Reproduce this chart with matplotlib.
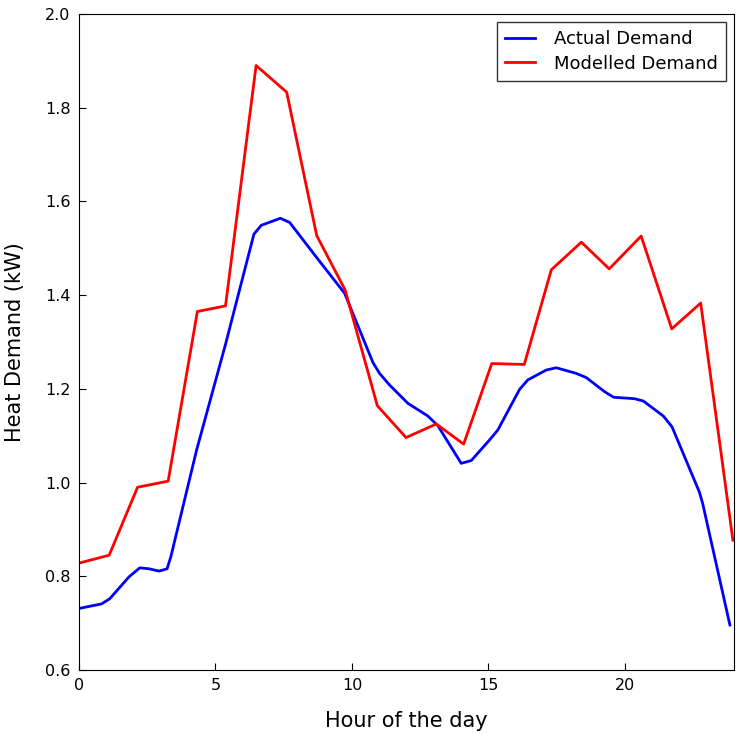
import numpy as np
import matplotlib
matplotlib.use("Agg")
import matplotlib.pyplot as plt

# actual demand (blue)
actual_hours = [0.06, 0.83, 1.13, 1.84, 2.23, 2.57, 2.94, 3.23, 3.37, 4.31, 5.37,
                6.41, 6.68, 7.38, 7.72, 8.75, 9.73, 10.77, 11.01, 11.38, 12.05,
                12.78, 13.15, 14.0, 14.37, 15.04, 15.34, 16.14, 16.44, 17.11,
                17.48, 18.21, 18.58, 19.25, 19.58, 20.34, 20.67, 21.4, 21.72,
                22.72, 22.84, 23.84]
actual_demand = [0.732, 0.741, 0.752, 0.799, 0.818, 0.816, 0.811, 0.816, 0.842,
                 1.069, 1.295, 1.530, 1.549, 1.564, 1.555, 1.477, 1.404, 1.256,
                 1.233, 1.208, 1.169, 1.142, 1.121, 1.041, 1.047, 1.091, 1.112,
                 1.199, 1.219, 1.240, 1.245, 1.233, 1.224, 1.194, 1.182, 1.179,
                 1.174, 1.142, 1.119, 0.980, 0.956, 0.696]

# modelled demand (red)
model_hours = [0.0, 1.11, 2.15, 3.27, 4.34, 5.37, 6.49, 7.61, 8.71, 9.75, 10.93,
               11.98, 13.09, 14.09, 15.12, 16.31, 17.3, 18.4, 19.42, 20.59,
               21.71, 22.77, 23.95]
model_demand = [0.828, 0.845, 0.990, 1.003, 1.365, 1.377, 1.890, 1.833, 1.527,
                1.411, 1.164, 1.096, 1.125, 1.082, 1.254, 1.252, 1.454, 1.513,
                1.456, 1.526, 1.328, 1.383, 0.877]

fig = plt.figure(figsize=(7.37, 7.34), dpi=100)
ax = fig.add_axes([0.107, 0.0872, 0.8893, 0.8938])

ax.plot(actual_hours, actual_demand, color='blue', lw=2, label='Actual Demand')
ax.plot(model_hours, model_demand, color='red', lw=2, label='Modelled Demand')

ax.set_xlim(0, 24)
ax.set_ylim(0.6, 2.0)
ax.set_xticks([0, 5, 10, 15, 20])
ax.set_yticks(np.arange(0.6, 2.01, 0.2))
ax.tick_params(direction='in', labelsize=11.5, length=5, pad=6)
ax.set_xlabel('Hour of the day', fontsize=15, labelpad=13)
ax.set_ylabel('Heat Demand (kW)', fontsize=15, labelpad=14)

leg = ax.legend(loc='upper right', fontsize=13, fancybox=False,
                handlelength=1.65, handletextpad=1.05, borderpad=0.45,
                labelspacing=0.35, borderaxespad=0.45)
leg.get_frame().set_edgecolor('black')
leg.get_frame().set_linewidth(1)

fig.savefig('out.png', dpi=100)
